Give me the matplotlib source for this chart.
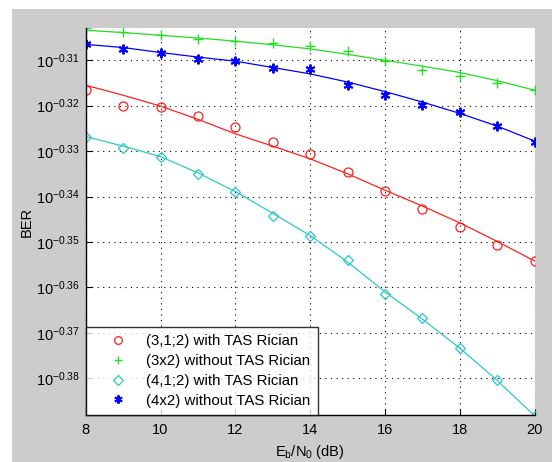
import matplotlib.pyplot as plt
import matplotlib.patches as patches
import numpy as np

plt.rcParams['font.family'] = ['Liberation Sans', 'DejaVu Sans']
plt.rcParams['mathtext.default'] = 'regular'

# Eb/N0 in dB
snr = [8, 9, 10, 11, 12, 13, 14, 15, 16, 17, 18, 19, 20]

# BER exponents (log10) of the simulated points
red_pts = [-0.3165, -0.3200, -0.3202, -0.3223, -0.3247, -0.3279, -0.3306,
           -0.3345, -0.3388, -0.3428, -0.3467, -0.3507, -0.3542]
green_pts = [-0.3030, -0.3038, -0.3044, -0.3054, -0.3058, -0.3061, -0.3068,
             -0.3080, -0.3102, -0.3122, -0.3135, -0.3149, -0.3166]
cyan_pts = [-0.3268, -0.3293, -0.3312, -0.3351, -0.3389, -0.3443, -0.3486,
            -0.3540, -0.3614, -0.3668, -0.3734, -0.3805, -0.3883]
blue_pts = [-0.3065, -0.3076, -0.3083, -0.3098, -0.3102, -0.3116, -0.3120,
            -0.3154, -0.3176, -0.3199, -0.3215, -0.3245, -0.3280]

# exponents of the fitted curves
red_fit = [-0.3155, -0.3177, -0.3201, -0.3230, -0.3262, -0.3289, -0.3317,
           -0.3350, -0.3386, -0.3421, -0.3458, -0.3499, -0.3542]
green_fit = [-0.3034, -0.3039, -0.3045, -0.3051, -0.3058, -0.3066, -0.3075,
             -0.3087, -0.3100, -0.3113, -0.3127, -0.3145, -0.3166]
cyan_fit = [-0.3268, -0.3289, -0.3312, -0.3348, -0.3389, -0.3437, -0.3486,
            -0.3544, -0.3610, -0.3670, -0.3734, -0.3805, -0.3883]
blue_fit = [-0.3065, -0.3072, -0.3083, -0.3093, -0.3102, -0.3116, -0.3130,
             -0.3148, -0.3169, -0.3192, -0.3217, -0.3245, -0.3278]

labels = ['(3,1;2) with TAS Rician', '(3x2) without TAS Rician',
          '(4,1;2) with TAS Rician', '(4x2) without TAS Rician']
ytick_exp = [-0.31, -0.32, -0.33, -0.34, -0.35, -0.36, -0.37, -0.38]

fig = plt.figure(figsize=(5.52, 4.62), dpi=100)
fig.patch.set_facecolor('white')
fig.patches.append(patches.Rectangle((12 / 552, 0), 1, 1 - 9 / 462,
                                     transform=fig.transFigure,
                                     facecolor='#cccccc', edgecolor='none',
                                     zorder=-10))

ax = fig.add_axes([85.7 / 552, 1 - 415 / 462, 449 / 552, 387 / 462])
ax.set_facecolor('white')

series = [
    (red_pts, red_fit, '#ff2020', 'o', 6.5, 0.9),
    (green_pts, green_fit, '#22dd22', '+', 7.5, 1.0),
    (cyan_pts, cyan_fit, '#2ec8c8', 'D', 5.5, 0.9),
    (blue_pts, blue_fit, '#0000ff', (6, 2, 0), 7, 1.4),
]
x = np.array(snr)
for (pts, fit, col, mk, ms, mw), lab in zip(series, labels):
    ax.plot(x, 10 ** np.array(fit), '-', color=col, lw=0.9)
    ax.plot(x, 10 ** np.array(pts), linestyle='none', marker=mk,
            markersize=ms, mfc='none', mec=col, mew=mw, label=lab)

ax.set_yscale('log')
ax.set_xlim(8, 20)
ax.set_ylim(10 ** -0.3881, 10 ** -0.3029)
ax.set_xticks([8, 10, 12, 14, 16, 18, 20])
ax.set_yticks([10 ** e for e in ytick_exp])
ax.set_yticklabels(['$10^{%.2f}$' % e for e in ytick_exp])
ax.yaxis.set_minor_locator(plt.NullLocator())
ax.tick_params(axis='both', direction='in', length=4, labelsize=10.5,
               colors='black')
ax.tick_params(axis='y', pad=4)
ax.tick_params(axis='x', pad=6)
ax.grid(True, color='black', linestyle=(0, (1, 4)), linewidth=0.8)

ax.spines['top'].set_visible(False)
ax.spines['right'].set_visible(False)
for s in ['left', 'bottom']:
    ax.spines[s].set_linewidth(1.0)

ax.set_xlabel('$E_b/N_0$ (dB)', fontsize=10.5, labelpad=4)
ax.set_ylabel('BER', fontsize=10.5, labelpad=2)

leg = ax.legend(loc='lower left', borderaxespad=0, fancybox=False,
                edgecolor='black', fontsize=10.8, handlelength=3.3,
                handletextpad=0.25, borderpad=0.5, labelspacing=0.38,
                markerscale=0.85)
leg.get_frame().set_linewidth(1.0)

fig.savefig('out.png', dpi=100)
